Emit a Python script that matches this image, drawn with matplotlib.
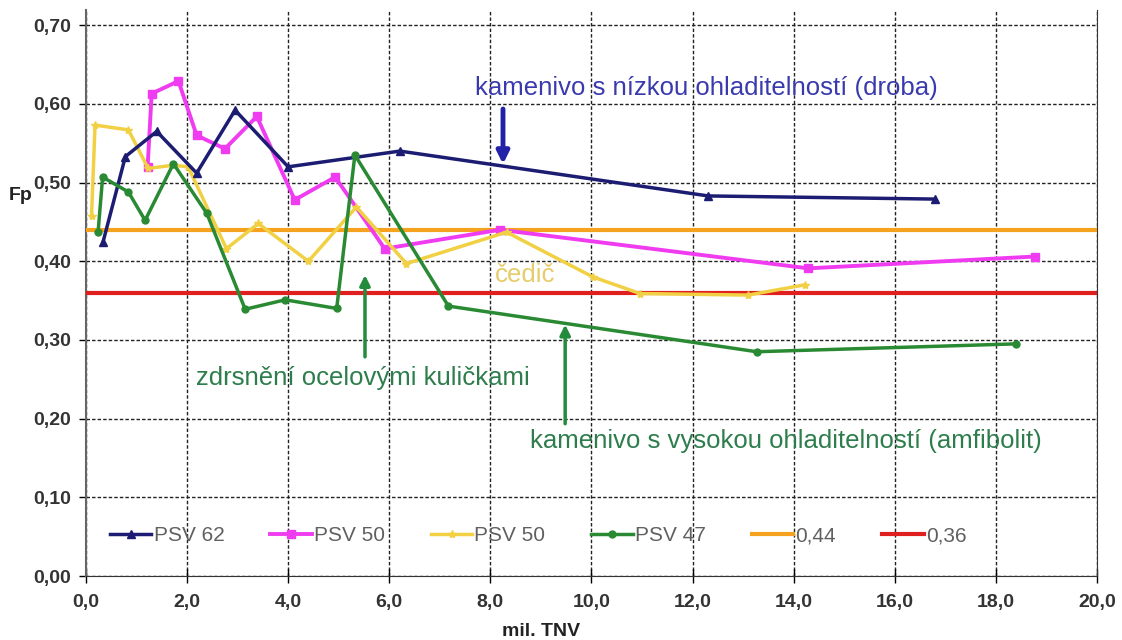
import matplotlib
matplotlib.use("Agg")
import matplotlib.pyplot as plt

plt.rcParams['font.family'] = ['Liberation Sans', 'DejaVu Sans']

# Friction coefficient Fp versus traffic load (millions of vehicles)
x_psv62 = [0.34, 0.78, 1.40, 2.19, 2.95, 4.00, 6.21, 12.31, 16.80]
y_psv62 = [0.425, 0.533, 0.565, 0.512, 0.592, 0.520, 0.540, 0.483, 0.479]

x_psv50a = [1.22, 1.30, 1.83, 2.19, 2.75, 3.38, 4.13, 4.93, 5.91, 8.19, 14.29, 18.77]
y_psv50a = [0.520, 0.613, 0.629, 0.560, 0.543, 0.584, 0.478, 0.507, 0.416, 0.440, 0.391, 0.406]

x_psv50b = [0.11, 0.18, 0.84, 1.23, 1.73, 2.02, 2.78, 3.41, 4.40, 5.35, 6.34, 8.32,
            10.03, 10.96, 13.10, 14.22]
y_psv50b = [0.457, 0.573, 0.567, 0.518, 0.522, 0.520, 0.416, 0.448, 0.400, 0.469, 0.397, 0.437,
            0.380, 0.359, 0.357, 0.370]

x_psv47 = [0.24, 0.33, 0.84, 1.17, 1.73, 2.39, 3.15, 3.94, 4.96, 5.32, 7.17, 13.27, 18.40]
y_psv47 = [0.437, 0.507, 0.488, 0.452, 0.524, 0.461, 0.339, 0.351, 0.340, 0.535, 0.343, 0.285, 0.295]

limit_high = 0.44
limit_low = 0.36

x_ticks = [0, 2, 4, 6, 8, 10, 12, 14, 16, 18, 20]
y_ticks = [0.0, 0.1, 0.2, 0.3, 0.4, 0.5, 0.6, 0.7]

fig = plt.figure(figsize=(11.22, 6.40), dpi=100)
ax = fig.add_axes([0.0766, 0.100, 0.9011, 0.884])

ax.plot(x_psv62, y_psv62, color='#1c1c72', lw=2.5, marker='^', ms=6, label='PSV 62', zorder=5)
ax.plot(x_psv50a, y_psv50a, color='#f03cf0', lw=2.8, marker='s', ms=6, label='PSV 50', zorder=4)
ax.plot(x_psv50b, y_psv50b, color='#f2d044', lw=2.5, marker='*', ms=6, label='PSV 50', zorder=4)
ax.plot(x_psv47, y_psv47, color='#2a8a34', lw=2.5, marker='o', ms=5, label='PSV 47', zorder=5)
ax.axhline(limit_high, color='#f5a21e', lw=3, label='0,44', zorder=3)
ax.axhline(limit_low, color='#e0201e', lw=3, label='0,36', zorder=3)

ax.set_xlim(0, 20)
ax.set_ylim(0, 0.719)
ax.set_xticks(x_ticks)
ax.set_yticks(y_ticks)
ax.set_xticklabels([f"{v:.1f}".replace('.', ',') for v in x_ticks],
                   fontsize=14, fontweight='bold', color='#333333')
ax.set_yticklabels([f"{v:.2f}".replace('.', ',') for v in y_ticks],
                   fontsize=14, fontweight='bold', color='#333333')
ax.tick_params(axis='x', direction='inout', length=10, width=1, pad=8)
ax.tick_params(axis='y', direction='out', length=5, width=1, pad=6)

ax.grid(True, color='#222222', linestyle=(0, (2.5, 1.5)), linewidth=1)
ax.set_axisbelow(True)
ax.spines['top'].set_visible(False)
ax.spines['left'].set_color('#666666')
ax.spines['left'].set_linewidth(1.5)
ax.spines['right'].set_color('#333333')
ax.spines['bottom'].set_color('#333333')

ax.text(-1.3, 0.483, 'Fp', fontsize=14, fontweight='bold', color='#222222',
        ha='center', va='center')
ax.text(9.0, -0.070, 'mil. TNV', fontsize=14, fontweight='bold', color='#222222',
        ha='center', va='center')

# Annotations
ax.text(12.28, 0.62, 'kamenivo s nízkou ohladitelností (droba)', fontsize=18.5,
        color='#3a3aae', ha='center', va='center')
ax.annotate('', xy=(8.25, 0.520), xytext=(8.25, 0.597),
            arrowprops=dict(arrowstyle='-|>', color='#2222a8', lw=3.5, mutation_scale=18))

ax.text(8.68, 0.382, 'čedič', fontsize=18.5, color='#e6cc6a', ha='center', va='center')

ax.text(5.47, 0.252, 'zdrsnění ocelovými kuličkami', fontsize=18.5,
        color='#2e7d4c', ha='center', va='center')
ax.annotate('', xy=(5.52, 0.386), xytext=(5.52, 0.275),
            arrowprops=dict(arrowstyle='-|>', color='#228b3c', lw=2.5, mutation_scale=15))

ax.text(13.85, 0.171, 'kamenivo s vysokou ohladitelností (amfibolit)', fontsize=18.5,
        color='#2e7d4c', ha='center', va='center')
ax.annotate('', xy=(9.48, 0.323), xytext=(9.48, 0.19),
            arrowprops=dict(arrowstyle='-|>', color='#228b3c', lw=2.5, mutation_scale=15))

leg = ax.legend(loc='center left', bbox_to_anchor=(0.005, 0.071), ncol=6, frameon=False,
                fontsize=15, handlelength=2.0, handletextpad=0.1, columnspacing=2.2,
                labelcolor='#606060')

fig.savefig('out.png', dpi=100, facecolor='white')
